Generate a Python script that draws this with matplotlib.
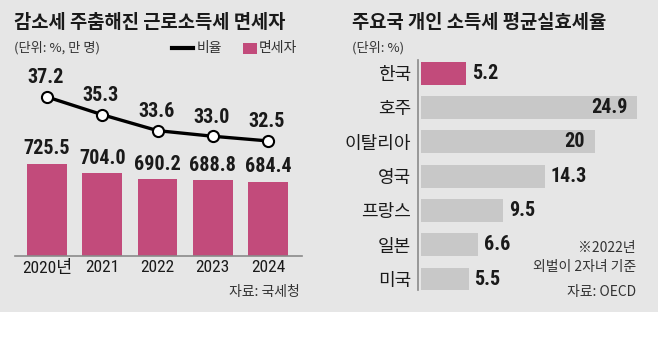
import matplotlib
matplotlib.use("Agg")
import matplotlib.pyplot as plt
from matplotlib.patches import Rectangle
from matplotlib.lines import Line2D

plt.rcParams['font.family'] = ['Noto Sans CJK KR', 'DejaVu Sans']

# left panel data
years = ['2020년', '2021', '2022', '2023', '2024']
exempt = [725.5, 704.0, 690.2, 688.8, 684.4]   # 면세자 (만 명)
ratio = [37.2, 35.3, 33.6, 33.0, 32.5]         # 비율 (%)

# right panel data
countries = ['한국', '호주', '이탈리아', '영국', '프랑스', '일본', '미국']
eff_rate = [5.2, 24.9, 20, 14.3, 9.5, 6.6, 5.5]
rate_labels = ['5.2', '24.9', '20', '14.3', '9.5', '6.6', '5.5']

PINK = '#c24b7b'
GREY_BAR = '#c8c8c8'
BG = '#e6e6e6'
TXT = '#1a1a1a'
# narrow face for the numbers, Korean falls back to Noto
NUM = ['Roboto Condensed', 'Archivo Narrow', 'Noto Sans CJK KR']

W, H = 658, 339
fig = plt.figure(figsize=(W / 100, H / 100), dpi=100, facecolor='white')
fig.patches.append(Rectangle((0, 27 / H), 1, 1 - 27 / H, transform=fig.transFigure,
                             facecolor=BG, edgecolor='none', zorder=-10))


def fx(px):
    return px / W


def fy(py):
    return 1 - py / H


# ---------- left panel ----------
ax = fig.add_axes([fx(15), fy(256), fx(287), 196 / H])
ax.patch.set_visible(False)
xs = list(range(len(years)))
ax.bar(xs, exempt, width=0.72, color=PINK, zorder=2)
ax.set_xlim(-0.58, 4.615)
ax.set_ylim(515.5, 963)
for s in ['top', 'right', 'left']:
    ax.spines[s].set_visible(False)
ax.spines['bottom'].set_color('#8a8a8a')
ax.spines['bottom'].set_linewidth(1.2)
ax.set_yticks([])
ax.set_xticks(xs)
ax.set_xticklabels(years, family=NUM, fontsize=12.5, color=TXT)
ax.tick_params(axis='x', length=0, pad=3)
for x, v in zip(xs, exempt):
    ax.annotate(f'{v:.1f}', (x, v), xytext=(0, 4), textcoords='offset points',
                ha='center', va='bottom', family=NUM, fontsize=14.5,
                fontweight='bold', color=TXT)

ax2 = ax.twinx()
ax2.set_ylim(20.2, 41.15)
ax2.plot(xs, ratio, color='black', lw=2.4, marker='o', markersize=8,
         markerfacecolor='white', markeredgecolor='black', markeredgewidth=1.5, zorder=3)
ax2.axis('off')
for x, v in zip(xs, ratio):
    ax2.annotate(f'{v:.1f}', (x, v), xytext=(-1, 7), textcoords='offset points',
                 ha='center', va='bottom', family=NUM, fontsize=14.5,
                 fontweight='bold', color=TXT)

fig.text(fx(14), fy(22), '감소세 주춤해진 근로소득세 면세자', fontsize=13.5,
         fontweight='bold', color=TXT, va='center', ha='left')
fig.text(fx(14), fy(48), '(단위: %, 만 명)', fontsize=9.5, color='#333333',
         va='center', ha='left')
fig.lines.append(Line2D([fx(172), fx(193)], [fy(48), fy(48)], transform=fig.transFigure,
                        color='black', lw=3))
fig.text(fx(197), fy(48), '비율', fontsize=10, color='#333333', va='center')
fig.patches.append(Rectangle((fx(243), fy(54)), fx(14), 11 / H, transform=fig.transFigure,
                             facecolor=PINK, edgecolor='none'))
fig.text(fx(259), fy(48), '면세자', fontsize=10, color='#333333', va='center')
fig.text(fx(300), fy(292), '자료: 국세청', fontsize=10, color='#333333',
         va='center', ha='right')

# ---------- right panel ----------
bx = fig.add_axes([fx(418), fy(290), fx(232), 230 / H])
bx.patch.set_visible(False)
ys = list(range(len(countries)))
colors = [PINK] + [GREY_BAR] * (len(countries) - 1)
bx.barh(ys, eff_rate, height=0.67, color=colors, zorder=2)
bx.set_xlim(-0.346, 26.38)
bx.set_ylim(6.32, -0.379)
for s in ['top', 'right', 'bottom']:
    bx.spines[s].set_visible(False)
bx.spines['left'].set_color('#8a8a8a')
bx.spines['left'].set_linewidth(1.2)
bx.set_xticks([])
bx.set_yticks(ys)
bx.set_yticklabels(countries, fontsize=13, color=TXT)
bx.tick_params(axis='y', length=0, pad=5)
for y, v, lab in zip(ys, eff_rate, rate_labels):
    if v > 18:
        bx.annotate(lab, (v, y), xytext=(-7, 0), textcoords='offset points',
                    ha='right', va='center', family=NUM, fontsize=14.5,
                    fontweight='bold', color=TXT)
    else:
        bx.annotate(lab, (v, y), xytext=(4, 0), textcoords='offset points',
                    ha='left', va='center', family=NUM, fontsize=14.5,
                    fontweight='bold', color=TXT)

fig.text(fx(352), fy(22), '주요국 개인 소득세 평균실효세율', fontsize=13.5,
         fontweight='bold', color=TXT, va='center', ha='left')
fig.text(fx(352), fy(48), '(단위: %)', fontsize=9.5, color='#333333',
         va='center', ha='left')
fig.text(fx(636), fy(248), '※2022년', fontsize=10, color='#333333',
         va='center', ha='right')
fig.text(fx(636), fy(267), '외벌이 2자녀 기준', fontsize=10, color='#333333',
         va='center', ha='right')
fig.text(fx(636), fy(292), '자료: OECD', fontsize=10, color='#333333',
         va='center', ha='right')

fig.savefig('out.png', dpi=100, facecolor='white')
